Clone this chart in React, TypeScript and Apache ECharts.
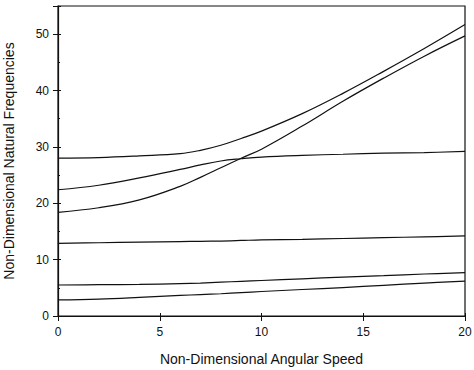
import React, { useEffect, useRef } from "react";
import * as echarts from "echarts";

const xs = [0, 2, 4, 6, 7, 8, 9, 10, 12, 14, 16, 18, 20];
const modeA = [28.0, 28.1, 28.4, 28.8, 29.4, 30.3, 31.5, 32.8, 35.9, 39.5, 43.4, 47.45, 51.7];
const modeB = [22.4, 23.2, 24.5, 26.0, 26.8, 27.5, 27.9, 28.2, 28.5, 28.7, 28.9, 29.0, 29.2];
const modeC = [18.4, 19.2, 20.6, 23.0, 24.6, 26.3, 28.0, 29.6, 33.7, 38.1, 42.2, 46.1, 49.7];
const modeD = [12.9, 13.0, 13.1, 13.2, 13.25, 13.3, 13.4, 13.5, 13.6, 13.75, 13.9, 14.05, 14.2];
const modeE = [5.5, 5.55, 5.6, 5.75, 5.85, 6.0, 6.15, 6.3, 6.6, 6.9, 7.15, 7.45, 7.7];
const modeF = [2.85, 3.0, 3.3, 3.65, 3.8, 3.95, 4.15, 4.35, 4.7, 5.05, 5.45, 5.85, 6.2];
const modes = [modeA, modeB, modeC, modeD, modeE, modeF];

const xTitle = "Non-Dimensional Angular Speed";
const yTitle = "Non-Dimensional Natural Frequencies";

export default function App() {
  const ref = useRef<HTMLDivElement>(null);
  useEffect(() => {
    if (!ref.current) return;
    const chart = echarts.init(ref.current, undefined, { renderer: "svg" });
    const font = "'Liberation Sans', Arial, sans-serif";
    const baseX = {
      type: "value",
      min: 0,
      max: 20,
      interval: 5,
      splitLine: { show: false },
    };
    const baseY = {
      type: "value",
      min: 0,
      max: 55,
      interval: 10,
      splitLine: { show: false },
    };
    chart.setOption({
      animation: false,
      backgroundColor: "#ffffff",
      grid: {
        left: 58,
        right: 9,
        top: 6,
        bottom: 54,
        containLabel: false,
        outerBoundsMode: "none",
        show: true,
        borderColor: "#111",
        borderWidth: 1.2,
        backgroundColor: "transparent",
      },
      xAxis: [
        {
          ...baseX,
          name: xTitle,
          nameLocation: "middle",
          nameGap: 36,
          nameTextStyle: { fontFamily: font, fontSize: 14, color: "#111" },
          axisLine: { lineStyle: { color: "#111", width: 1.2 } },
          axisTick: { inside: false, length: 5, lineStyle: { color: "#111" } },
          axisLabel: { margin: 10, fontFamily: font, fontSize: 12, color: "#111" },
        },
        {
          ...baseX,
          position: "bottom",
          axisLine: { show: false },
          axisTick: { inside: true, length: 3, lineStyle: { color: "#111" } },
          axisLabel: { show: false },
        },
      ],
      yAxis: [
        {
          ...baseY,
          name: yTitle,
          nameLocation: "middle",
          nameGap: 42,
          nameTextStyle: { fontFamily: font, fontSize: 14, color: "#111" },
          axisLine: { lineStyle: { color: "#111", width: 1.2 } },
          axisTick: { inside: false, length: 5, lineStyle: { color: "#111" } },
          axisLabel: {
            margin: 9,
            fontFamily: font,
            fontSize: 12,
            color: "#111",
            formatter: (v: number) => (v % 10 === 0 ? String(v) : ""),
          },
        },
        {
          ...baseY,
          position: "left",
          axisLine: { show: false },
          axisTick: { inside: true, length: 3, lineStyle: { color: "#111" } },
          minorTick: { show: true, splitNumber: 2, length: 2, lineStyle: { color: "#111" } },
          axisLabel: { show: false },
        },
      ],
      series: modes.map((m) => ({
        type: "line",
        xAxisIndex: 0,
        yAxisIndex: 0,
        data: xs.map((x, i) => [x, m[i]]),
        smooth: 0.4,
        showSymbol: false,
        lineStyle: { color: "#111", width: 1.2 },
      })),
    });
    return () => chart.dispose();
  }, []);
  return <div ref={ref} style={{ width: 474, height: 370, position: "absolute", left: 0, top: 0 }} />;
}
